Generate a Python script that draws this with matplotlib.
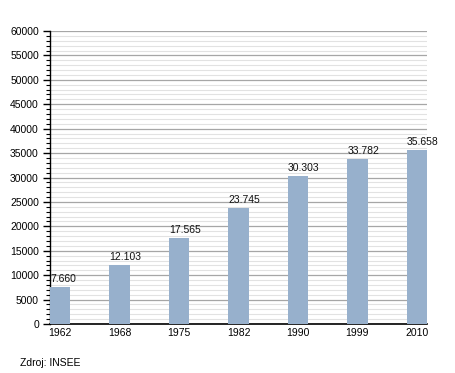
import matplotlib
matplotlib.use("Agg")
import matplotlib.pyplot as plt
from matplotlib.ticker import MultipleLocator

years = ["1962", "1968", "1975", "1982", "1990", "1999", "2010"]
population = [7660, 12103, 17565, 23745, 30303, 33782, 35658]
labels = ["7.660", "12.103", "17.565", "23.745", "30.303", "33.782", "35.658"]

plt.rcParams['font.family'] = ['Liberation Sans', 'DejaVu Sans']

fig = plt.figure(figsize=(4.55, 3.73), dpi=100)
ax = fig.add_axes([50/455, 1-324/373, 377/455, 293/373])

x = list(range(len(years)))
w = 0.34
bars = ax.bar(x, population, width=w, color="#97b0cc", zorder=3)
for xi, v, lab in zip(x, population, labels):
    ax.text(xi - w/2, v + 600, lab, ha="left", va="bottom", fontsize=7.5, color="#111111", zorder=4)

ax.set_xlim(-w/2, len(years) - 1 + w/2)
ax.set_ylim(0, 60000)
ax.yaxis.set_major_locator(MultipleLocator(5000))
ax.yaxis.set_minor_locator(MultipleLocator(1000))
ax.grid(which="major", axis="y", color="#a6a6a6", linewidth=0.9, zorder=1)
ax.grid(which="minor", axis="y", color="#e2e2e2", linewidth=0.8, zorder=0)
ax.set_xticks(x)
ax.set_xticklabels(years)
ax.tick_params(axis="x", length=0, labelsize=7.5, pad=3)
ax.tick_params(axis="y", which="major", length=5, width=1, labelsize=7.5, pad=3)
ax.tick_params(axis="y", which="minor", length=3, width=0.8)
for s in ["top", "right"]:
    ax.spines[s].set_visible(False)
ax.spines["left"].set_color("black")
ax.spines["bottom"].set_color("black")
ax.spines["left"].set_linewidth(1)
ax.spines["bottom"].set_linewidth(1.2)
ax.set_axisbelow(True)

fig.text(20/455, 1-363/373, "Zdroj: INSEE", fontsize=7.5, ha="left", va="center")

fig.savefig("out.png", dpi=100)
